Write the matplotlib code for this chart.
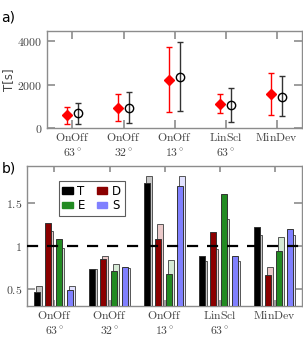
import numpy as np
import matplotlib
matplotlib.use('Agg')
import matplotlib.pyplot as plt
from matplotlib.patches import Patch

plt.rcParams['mathtext.fontset'] = 'cm'

# ---- Data ------------------------------------------------------------
groups = [r'$\mathrm{OnOff}$' + '\n' + r'$63^\circ$',
          r'$\mathrm{OnOff}$' + '\n' + r'$32^\circ$',
          r'$\mathrm{OnOff}$' + '\n' + r'$13^\circ$',
          r'$\mathrm{LinScl}$' + '\n' + r'$63^\circ$',
          r'$\mathrm{MinDev}$' + '\n' + ' ']

# panel a: mean T and error range (low, high)
red_mean = [582, 920, 2222, 1119, 1548]
red_lo = [200, 307, 736, 690, 598]
red_hi = [950, 1563, 3709, 1563, 2529]
blk_mean = [674, 920, 2360, 1057, 1440]
blk_lo = [170, 230, 766, 276, 536]
blk_hi = [1165, 1640, 3954, 1824, 2375]

# panel b: normalized values (dark bar, light bar) per metric
series = ['T', 'D', 'E', 'S']
dark_vals = {
    'T': [0.457, 0.733, 1.736, 0.884, 1.217],
    'D': [1.27, 0.849, 1.078, 1.163, 0.659],
    'E': [1.078, 0.709, 0.671, 1.609, 0.942],
    'S': [0.488, 0.748, 1.698, 0.884, 1.194],
}
light_vals = {
    'T': [0.527, 0.725, 1.818, 0.818, 1.124],
    'D': [1.167, 0.884, 1.252, 0.961, 0.752],
    'E': [0.973, 0.791, 0.837, 1.31, 1.097],
    'S': [0.535, 0.736, 1.81, 0.818, 1.124],
}
dark_col = {'T': '#000000', 'D': '#8b0000', 'E': '#228b22', 'S': '#8080ff'}
light_col = {'T': '#c8c8c8', 'D': '#ebcaca', 'E': '#d6ead6', 'S': '#e2e2ff'}

GRAY = '#8c8c8c'
TXT = '#444444'


def style_axes(ax):
    for s in ax.spines.values():
        s.set_color(GRAY)
        s.set_linewidth(1.0)
    ax.tick_params(direction='in', color=GRAY, width=1.2, length=6,
                   labelcolor=TXT, labelsize=8.5, top=True, right=True)
    ax.tick_params(axis='x', pad=2)


fig = plt.figure(figsize=(3.03, 3.38), dpi=100)

# ---- Panel a ---------------------------------------------------------
ax1 = fig.add_axes([0.155, 0.621, 0.842, 0.287])
x = np.arange(1, 6)
rm = np.array(red_mean)
bm = np.array(blk_mean)
ax1.errorbar(x - 0.1, rm, yerr=[rm - red_lo, np.array(red_hi) - rm],
             fmt='D', color='red', ms=5, capsize=2, elinewidth=1, mew=1)
ax1.errorbar(x + 0.1, bm, yerr=[bm - blk_lo, np.array(blk_hi) - bm],
             fmt='o', mfc='none', mec='black', ecolor='#333333', ms=6,
             capsize=2, elinewidth=1, mew=1)
ax1.set_xlim(0.5, 5.5)
ax1.set_ylim(0, 4460)
ax1.set_yticks([0, 2000, 4000])
ax1.set_yticklabels([r'$0$', r'$2000$', r'$4000$'])
ax1.set_xticks(x)
ax1.set_xticklabels(groups, linespacing=1.3, va='top')
style_axes(ax1)
ax1.set_ylabel('T[s]', color=TXT, fontsize=8.5, labelpad=1)
fig.text(0.005, 0.935, 'a)', fontsize=10)

# ---- Panel b ---------------------------------------------------------
ax2 = fig.add_axes([0.089, 0.095, 0.908, 0.414])
offsets = [-0.3, -0.1, 0.1, 0.3]
for off, key in zip(offsets, series):
    ax2.bar(x + off + 0.02, np.array(light_vals[key]) - 0.3, width=0.12,
            bottom=0.3, color=light_col[key], edgecolor='#555555',
            linewidth=0.7, zorder=2)
    ax2.bar(x + off - 0.015, np.array(dark_vals[key]) - 0.3, width=0.11,
            bottom=0.3, color=dark_col[key], edgecolor='#333333',
            linewidth=0.7, zorder=3)
ax2.axhline(1.0, color='black', lw=1.6, ls=(0, (5, 4)), zorder=4)
ax2.set_xlim(0.5, 5.5)
ax2.set_ylim(0.3, 1.93)
ax2.set_yticks([0.5, 1, 1.5])
ax2.set_yticklabels([r'$0.5$', r'$1$', r'$1.5$'])
ax2.set_xticks(x)
ax2.set_xticklabels(groups, linespacing=1.3, va='top')
style_axes(ax2)
ax2.tick_params(axis='x', length=4)
handles = [Patch(color=dark_col[k]) for k in ['T', 'E', 'D', 'S']]
leg = ax2.legend(handles, ['T', 'E', 'D', 'S'], ncol=2, loc='upper left',
                 bbox_to_anchor=(0.115, 0.89), fontsize=8.5, frameon=True,
                 fancybox=False, edgecolor='#333333', handlelength=0.9,
                 handleheight=0.5, handletextpad=0.4, columnspacing=1.0,
                 labelspacing=0.1, borderpad=0.3, borderaxespad=0)
leg.get_frame().set_linewidth(0.8)
fig.text(0.005, 0.49, 'b)', fontsize=10)

fig.savefig('out.png', dpi=100)
